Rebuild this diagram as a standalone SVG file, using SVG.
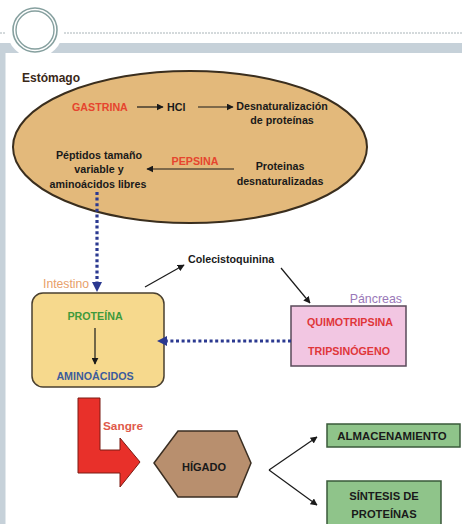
<svg xmlns="http://www.w3.org/2000/svg" width="462" height="524" viewBox="0 0 462 524">
<defs>
<style>
text{font-family:"Liberation Sans",Arial,sans-serif;font-weight:bold;font-size:10.7px;fill:#1a1a1a}
.c{text-anchor:middle}
.red{fill:#e6452e}
.thin{stroke:#1a1a1a;stroke-width:1.2;fill:none}
.dot{stroke:#2b3990;stroke-width:3.2;stroke-dasharray:3 2.6;fill:none}
</style>
<marker id="ah" viewBox="0 0 10 10" refX="9" refY="5" markerWidth="7" markerHeight="7" markerUnits="userSpaceOnUse" orient="auto"><path d="M0,0 L10,5 L0,10 Z" fill="#1a1a1a"/></marker>
</defs>
<rect width="462" height="524" fill="#ffffff"/>
<!-- header -->
<g id="header">
<rect x="0" y="43" width="462" height="10" fill="#c6d1d9"/>
<rect x="0" y="43" width="5.5" height="481" fill="#c6d1d9"/>
<line x1="64" y1="33" x2="462" y2="33" stroke="#a9b4b8" stroke-width="1" stroke-dasharray="2 1"/>
<line x1="0" y1="33" x2="6" y2="33" stroke="#a9b4b8" stroke-width="1" stroke-dasharray="2 1"/>
<circle cx="35" cy="30" r="28" fill="#ffffff"/>
<circle cx="35" cy="30" r="22" fill="#ffffff" stroke="#86a09f" stroke-width="1.6"/>
<circle cx="35" cy="30" r="19" fill="none" stroke="#86a09f" stroke-width="1.4"/>
</g>
<!-- stomach -->
<g id="estomago">
<ellipse cx="190" cy="147" rx="177" ry="76" fill="#e3b97b" stroke="#3a2e1e" stroke-width="2"/>
<text x="22" y="82" style="font-size:12px;fill:#3a2818">Estómago</text>
</g>
<g id="gastrina"><text x="72" y="111" class="red">GASTRINA</text></g>
<g id="hcl"><text x="167" y="111">HCl</text></g>
<g id="desnaturalizacion">
<text x="282" y="110" class="c">Desnaturalización</text>
<text x="282" y="124" class="c">de proteínas</text>
</g>
<g id="peptidos">
<text x="99" y="159" class="c">Péptidos tamaño</text>
<text x="99" y="173" class="c">variable y</text>
<text x="98" y="188" class="c">aminoácidos libres</text>
</g>
<g id="pepsina"><text x="195" y="165" class="c red">PEPSINA</text></g>
<g id="proteinas-desn">
<text x="280" y="170" class="c">Proteinas</text>
<text x="280" y="185" class="c">desnaturalizadas</text>
</g>
<!-- intestine -->
<g id="intestino">
<text x="43" y="288" style="font-weight:normal;font-size:12.2px;fill:#e8a06a">Intestino</text>
<rect x="32" y="293" width="132" height="94" rx="11" fill="#f6d98d" stroke="#4a4030" stroke-width="1.5"/>
<text x="95" y="320" class="c" style="fill:#3f9a3c">PROTEÍNA</text>
<text x="95" y="380" class="c" style="fill:#3c5c9c">AMINOÁCIDOS</text>
</g>
<g id="colecistoquinina"><text x="188" y="263">Colecistoquinina</text></g>
<!-- pancreas -->
<g id="pancreas">
<text x="402" y="303" style="font-weight:normal;font-size:12.4px;fill:#9a78b8;text-anchor:end">Páncreas</text>
<rect x="291" y="306" width="115" height="60" fill="#f2c6e2" stroke="#5a4a5a" stroke-width="1.5"/>
<text x="350" y="326" class="c" style="fill:#e0363a">QUIMOTRIPSINA</text>
<text x="349" y="355" class="c" style="fill:#e0363a">TRIPSINÓGENO</text>
</g>
<!-- blood arrow -->
<g id="sangre">
<path d="M78,398 L100,398 L100,450 L120,450 L120,438 L140,462 L120,487 L120,473 L78,473 Z" fill="#e8302a" stroke="#7a1a12" stroke-width="1"/>
<text x="103" y="430" style="font-size:11.8px;fill:#e05a4a">Sangre</text>
</g>
<!-- liver -->
<g id="higado">
<polygon points="154,463 178,431 237,431 251,463 237,497 178,497" fill="#b88f6e" stroke="#3a2e22" stroke-width="1.5"/>
<text x="204" y="471" class="c" style="font-size:11px">HÍGADO</text>
</g>
<g id="almacenamiento">
<rect x="327" y="424" width="133" height="23" fill="#8fc48a" stroke="#3a5a3a" stroke-width="1.5"/>
<text x="392" y="440" class="c" style="font-size:11.4px">ALMACENAMIENTO</text>
</g>
<g id="sintesis">
<rect x="327" y="481" width="114" height="50" fill="#8fc48a" stroke="#3a5a3a" stroke-width="1.5"/>
<text x="384" y="500" class="c" style="font-size:11.2px">SÍNTESIS DE</text>
<text x="384" y="518" class="c" style="font-size:11.2px">PROTEÍNAS</text>
</g>
<!-- connectors -->
<g id="connectors">
<line x1="137" y1="107" x2="163" y2="107" class="thin" marker-end="url(#ah)"/>
<line x1="198" y1="107" x2="233" y2="107" class="thin" marker-end="url(#ah)"/>
<line x1="234" y1="169" x2="147" y2="169" class="thin" marker-end="url(#ah)"/>
<line x1="97" y1="192" x2="97" y2="284" class="dot"/>
<path d="M92,282 L102,282 L97,292 Z" fill="#2b3990"/>
<line x1="291" y1="341" x2="166" y2="341" class="dot"/>
<path d="M167,336 L167,346 L157,341 Z" fill="#2b3990"/>
<line x1="95" y1="328" x2="95" y2="364" class="thin" marker-end="url(#ah)"/>
<line x1="145" y1="287" x2="184" y2="265" class="thin" marker-end="url(#ah)"/>
<line x1="281" y1="268" x2="310" y2="303" class="thin" marker-end="url(#ah)"/>
<line x1="269" y1="470" x2="317" y2="437" class="thin" marker-end="url(#ah)"/>
<line x1="269" y1="470" x2="317" y2="505" class="thin" marker-end="url(#ah)"/>
</g>
</svg>
